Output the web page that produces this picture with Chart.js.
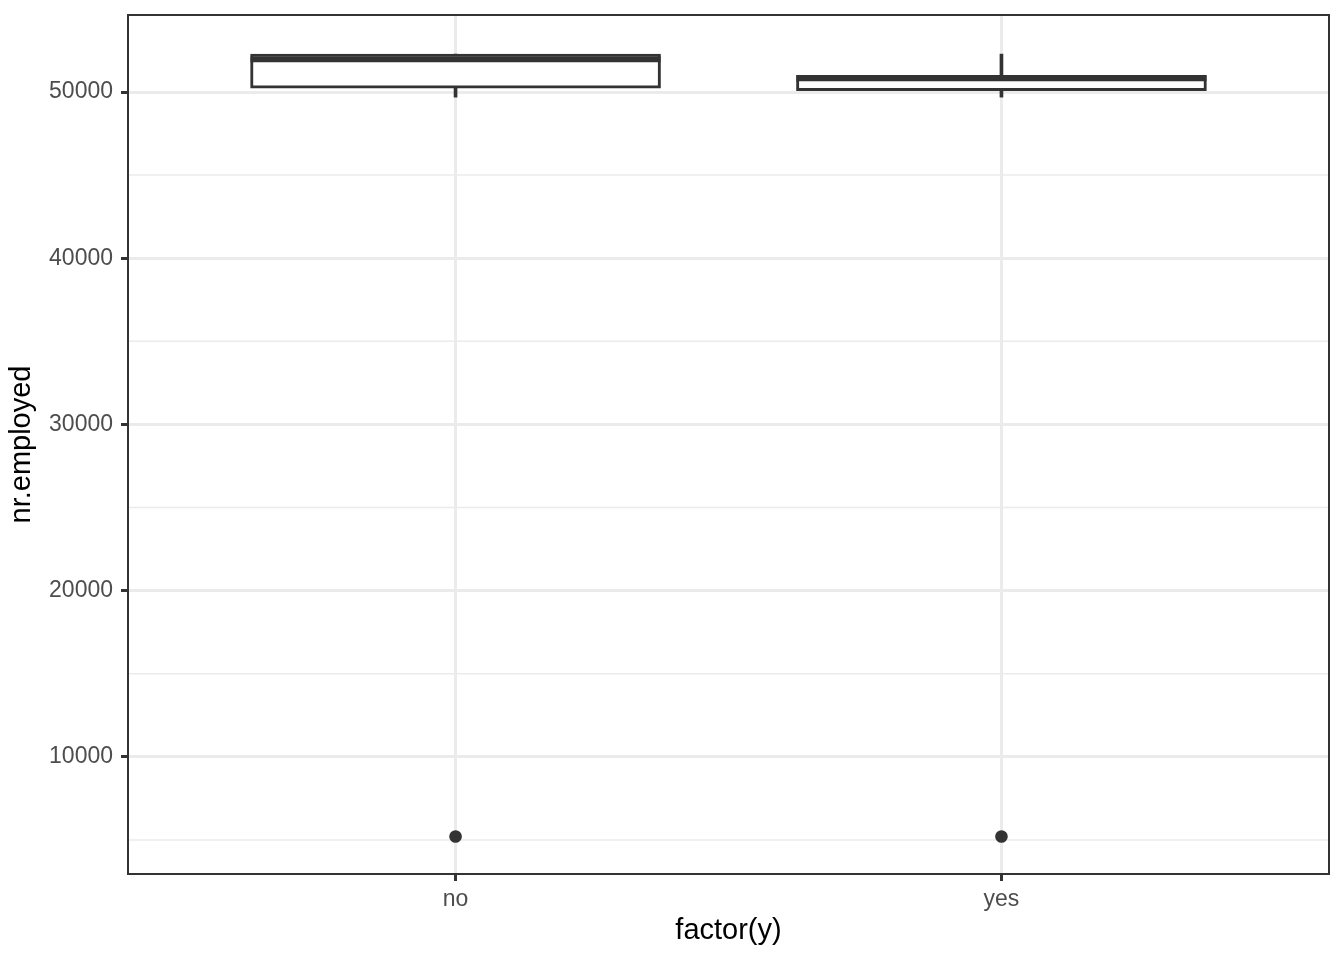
<!DOCTYPE html>
<html>
<head>
<meta charset="utf-8">
<script src="https://cdn.jsdelivr.net/npm/chart.js@4/dist/chart.umd.min.js"></script>
<style>
  html, body { margin: 0; padding: 0; background: #ffffff; }
  #wrap { width: 1344px; height: 960px; }
</style>
</head>
<body>
<div id="wrap"><canvas id="c" width="1344" height="960"></canvas></div>
<script>
// ---- data ----
const categories = ["no", "yes"];
const whiskerLow = [49690, 49690];
const q1 = [50235, 50087];
const median = [51958, 50820];
const q3 = [52281, 51000];
const whiskerHigh = [52281, 52281];
const outliers = [[5200], [5200]];
const majorTicks = [10000, 20000, 30000, 40000, 50000];
const minorTicks = [5000, 15000, 25000, 35000, 45000];
const yMin = 2948, yMax = 54633;

const INK = "#333333";
const GRID = "#EBEBEB";

const catPos = categories.map((c, i) => i + 1);

const lowData = catPos.map((x, i) => ({ x: x, y: [whiskerLow[i], q1[i]] }));
const highData = catPos.map((x, i) => ({ x: x, y: [q3[i], whiskerHigh[i]] }));
const boxData = catPos.map((x, i) => ({ x: x, y: [q1[i], q3[i]] }));
const outData = [];
catPos.forEach((x, i) => outliers[i].forEach(v => outData.push({ x: x, y: v })));

const panelPlugin = {
  id: "panel",
  beforeDatasetsDraw(chart) {
    const { ctx, chartArea: a, scales: { y } } = chart;
    ctx.save();
    ctx.strokeStyle = GRID;
    ctx.lineWidth = 1.5;
    minorTicks.forEach(v => {
      const py = y.getPixelForValue(v);
      ctx.beginPath();
      ctx.moveTo(a.left, py);
      ctx.lineTo(a.right, py);
      ctx.stroke();
    });
    ctx.restore();
  },
  afterDatasetsDraw(chart) {
    const { ctx, chartArea: a, scales: { y } } = chart;
    const meta = chart.getDatasetMeta(2);
    ctx.save();
    ctx.strokeStyle = INK;
    ctx.lineWidth = 5.7;
    ctx.lineCap = "butt";
    meta.data.forEach((el, i) => {
      const py = y.getPixelForValue(median[i]);
      const half = el.width / 2;
      ctx.beginPath();
      ctx.moveTo(el.x - half, py);
      ctx.lineTo(el.x + half, py);
      ctx.stroke();
    });
    ctx.lineWidth = 2;
    ctx.strokeStyle = INK;
    ctx.strokeRect(a.left, a.top, a.right - a.left, a.bottom - a.top);
    ctx.restore();
  }
};

const FONT = "'Liberation Sans', Arial, sans-serif";

new Chart(document.getElementById("c"), {
  type: "bar",
  data: {
    datasets: [
      { data: lowData, backgroundColor: INK, borderWidth: 0, barThickness: 3, grouped: false, order: 3 },
      { data: highData, backgroundColor: INK, borderWidth: 0, barThickness: 3, grouped: false, order: 3 },
      { data: boxData, backgroundColor: "#ffffff", borderColor: INK, borderWidth: 3, borderSkipped: false,
        barThickness: 410, grouped: false, order: 2 },
      { type: "scatter", data: outData, backgroundColor: INK, borderWidth: 0, pointRadius: 6.3, order: 1 }
    ]
  },
  options: {
    responsive: false,
    devicePixelRatio: 1,
    animation: false,
    layout: { padding: { left: 0, top: 15, right: 15, bottom: 0 } },
    plugins: { legend: { display: false }, tooltip: { enabled: false } },
    scales: {
      x: {
        type: "linear",
        offset: false,
        min: 0.4, max: 2.6,
        afterBuildTicks: s => { s.ticks = catPos.map(v => ({ value: v })); },
        afterFit: s => { s.height = 86; s.paddingLeft = 0; s.paddingRight = 0; },
        ticks: {
          callback: v => categories[Math.round(v) - 1],
          color: "#4D4D4D",
          font: { family: FONT, size: 23 },
          padding: 5,
          maxRotation: 0, autoSkip: false
        },
        grid: { offset: false, color: GRID, lineWidth: 3, tickColor: INK, tickLength: 7, tickWidth: 3 },
        border: { display: false },
        title: {
          display: true, text: "factor(y)", color: "#000000",
          font: { family: FONT, size: 29, lineHeight: 1 },
          padding: { top: 0, bottom: 14.5 }
        }
      },
      y: {
        type: "linear",
        min: yMin, max: yMax,
        afterBuildTicks: s => { s.ticks = majorTicks.map(v => ({ value: v })); },
        afterFit: s => { s.width = 128; s.paddingTop = 0; s.paddingBottom = 0; },
        ticks: {
          callback: v => String(v),
          color: "#4D4D4D",
          font: { family: FONT, size: 23 },
          padding: 8
        },
        grid: { color: GRID, lineWidth: 3, tickColor: INK, tickLength: 7, tickWidth: 3 },
        border: { display: false },
        title: {
          display: true, text: "nr.employed", color: "#000000",
          font: { family: FONT, size: 29, lineHeight: 1 },
          padding: { top: 7.5, bottom: 0 }
        }
      }
    }
  },
  plugins: [panelPlugin]
});
</script>
</body>
</html>
